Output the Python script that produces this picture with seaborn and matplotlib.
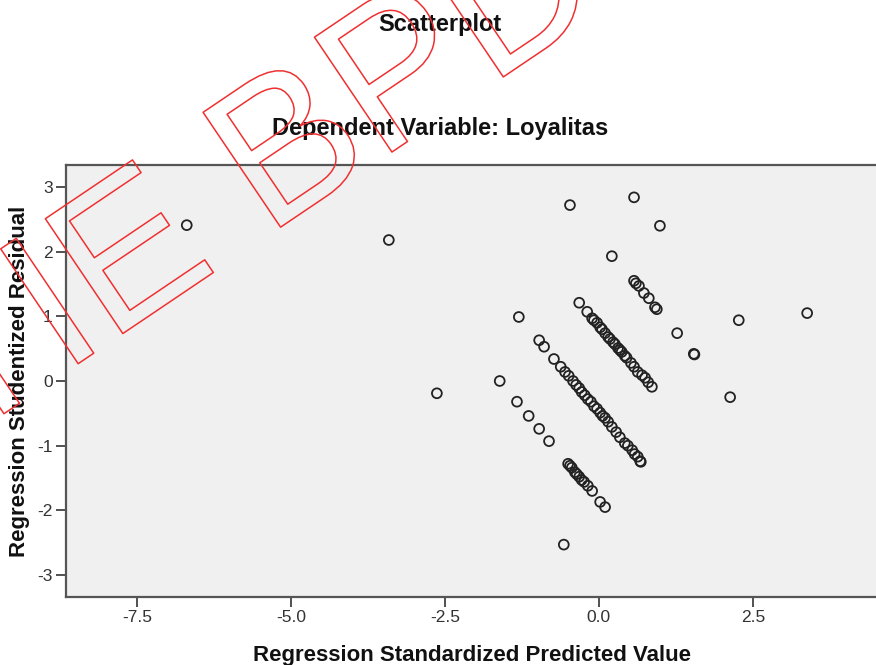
import matplotlib
matplotlib.use("Agg")
import matplotlib.pyplot as plt
import matplotlib.patheffects as pe
import seaborn as sns
import pandas as pd

# Regression standardized predicted values (x) and studentized residuals (y)
pred_band_a = [-0.47, 0.21, 0.57, 0.60, 0.65, 0.73, 0.81, 0.91, 0.94, 1.27]
resid_band_a = [2.72, 1.93, 1.55, 1.51, 1.47, 1.36, 1.28, 1.14, 1.11, 0.74]

pred_band_b = [-0.32, -0.19, -0.11, -0.08, -0.03, 0.02, 0.05, 0.10, 0.15, 0.18,
               0.23, 0.26, 0.31, 0.34, 0.37, 0.42, 0.45, 0.52, 0.57, 0.63,
               0.70, 0.75, 0.80, 0.86]
resid_band_b = [1.21, 1.07, 0.97, 0.94, 0.90, 0.83, 0.80, 0.74, 0.68, 0.65,
                0.60, 0.57, 0.51, 0.48, 0.45, 0.39, 0.36, 0.28, 0.22, 0.14,
                0.09, 0.05, -0.02, -0.09]

pred_band_c = [-1.30, -0.97, -0.89, -0.73, -0.62, -0.55, -0.49, -0.42, -0.37, -0.32,
               -0.28, -0.23, -0.18, -0.13, -0.08, -0.03, 0.02, 0.06, 0.10, 0.15,
               0.21, 0.28, 0.34, 0.42, 0.47, 0.54, 0.58, 0.63, 0.67, 0.68]
resid_band_c = [0.99, 0.63, 0.53, 0.34, 0.22, 0.14, 0.08, 0.00, -0.06, -0.11,
                -0.17, -0.22, -0.28, -0.32, -0.39, -0.43, -0.49, -0.54, -0.57, -0.63,
                -0.71, -0.79, -0.87, -0.96, -1.00, -1.07, -1.13, -1.17, -1.24, -1.25]

pred_band_d = [-1.61, -1.33, -1.14, -0.97, -0.81, -0.50, -0.47, -0.44, -0.39,
               -0.36, -0.32, -0.28, -0.24, -0.18, -0.11, 0.02, 0.10]
resid_band_d = [0.00, -0.32, -0.54, -0.74, -0.93, -1.28, -1.31, -1.34, -1.41,
                -1.44, -1.48, -1.53, -1.56, -1.62, -1.70, -1.87, -1.95]

pred_other = [-6.69, -3.41, -2.63, -0.57, 0.57, 0.99, 1.54, 1.55, 2.27, 3.38, 2.13]
resid_other = [2.41, 2.18, -0.19, -2.53, 2.84, 2.40, 0.42, 0.41, 0.94, 1.05, -0.25]

x_ticks = [-7.5, -5.0, -2.5, 0.0, 2.5]
x_tick_labels = ["-7.5", "-5.0", "-2.5", "0.0", "2.5"]
y_ticks = [-3, -2, -1, 0, 1, 2, 3]
y_tick_labels = ["-3", "-2", "-1", "0", "1", "2", "3"]

df = pd.DataFrame({
    "pred": pred_band_a + pred_band_b + pred_band_c + pred_band_d + pred_other,
    "resid": resid_band_a + resid_band_b + resid_band_c + resid_band_d + resid_other,
})

sns.set_style("ticks", {"axes.facecolor": "#f0f0f0"})
plt.rcParams["font.family"] = ["Liberation Sans", "DejaVu Sans"]

W, H = 876, 665
fig = plt.figure(figsize=(W / 100, H / 100), dpi=100)
fig.patch.set_facecolor("white")
ax = fig.add_axes([66 / W, (H - 597) / H, (878 - 66) / W, (597 - 165) / H])

sns.scatterplot(data=df, x="pred", y="resid", ax=ax, marker="o", s=50,
                facecolors="none", edgecolor="#222222", linewidth=1.3,
                legend=False, clip_on=False)

ax.set_xlim(-8.65, 4.53)
ax.set_ylim(-3.34, 3.34)
ax.set_xticks(x_ticks)
ax.set_xticklabels(x_tick_labels)
ax.set_yticks(y_ticks)
ax.set_yticklabels(y_tick_labels)
ax.tick_params(axis="both", direction="out", length=7.5, width=1.2,
               color="#333333", labelsize=12.5, labelcolor="#333333", pad=2)

for side in ("left", "bottom", "top", "right"):
    ax.spines[side].set_visible(True)
    ax.spines[side].set_color("#555555")
    ax.spines[side].set_linewidth(1.6)

ax.set_xlabel("Regression Standardized Predicted Value", fontsize=16,
              fontweight="bold", labelpad=14, color="#111111")
ax.set_ylabel("Regression Studentized Residual", fontsize=16,
              fontweight="bold", labelpad=5, color="#111111")

fig.text(440 / W, 1 - 25 / H, "Scatterplot", ha="center", va="center",
         fontsize=17, fontweight="bold", color="#111111")
fig.text(440 / W, 1 - 128 / H, "Dependent Variable: Loyalitas", ha="center",
         va="center", fontsize=17, fontweight="bold", color="#111111")

# outlined red watermark across the figure
fig.text(-1.506, 1.47, "STIE BPD", transform=fig.dpi_scale_trans,
         fontsize=145, rotation=34, rotation_mode="anchor",
         ha="left", va="baseline", color="none", zorder=10,
         path_effects=[pe.Stroke(linewidth=1.1, foreground="#f03030")])

fig.savefig("out.png", dpi=100)
